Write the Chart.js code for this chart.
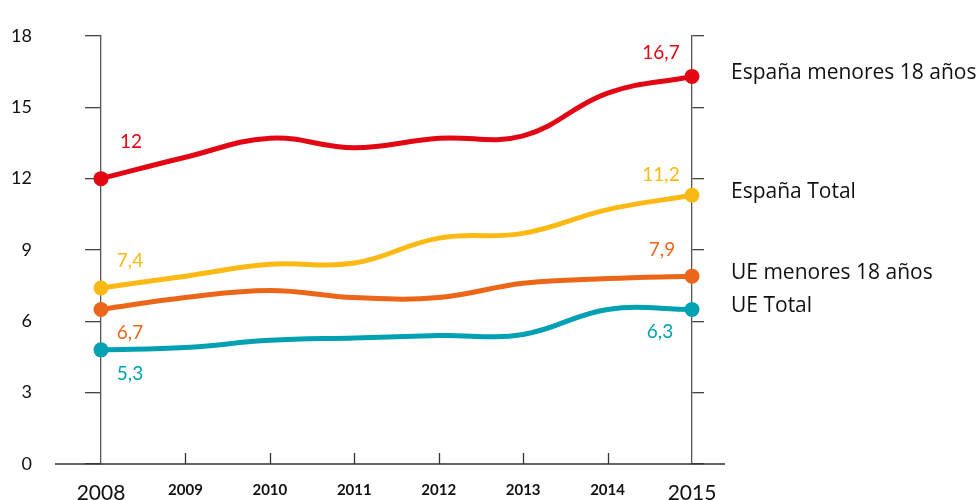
<!DOCTYPE html>
<html><head><meta charset="utf-8">
<script src="https://cdn.jsdelivr.net/npm/chart.js@4.4.1/dist/chart.umd.min.js"></script>
<style>html,body{margin:0;padding:0;background:#fff}#wrap{width:977px;height:500px}</style>
</head><body><div id="wrap"><canvas id="c" width="977" height="500"></canvas></div>
<script>
const years = ['2008','2009','2010','2011','2012','2013','2014','2015'];
const seriesNames = ['España menores 18 años','España Total','UE menores 18 años','UE Total'];
const espanaMenores = [12.0, 12.9, 13.7, 13.3, 13.7, 13.8, 15.6, 16.3];
const espanaTotal   = [7.4, 7.9, 8.4, 8.45, 9.5, 9.7, 10.7, 11.3];
const ueMenores     = [6.5, 7.0, 7.3, 7.0, 7.0, 7.6, 7.8, 7.9];
const ueTotal       = [4.8, 4.9, 5.2, 5.3, 5.4, 5.45, 6.5, 6.5];
const startLabels = ['12', '7,4', '6,7', '5,3'];
const endLabels   = ['16,7', '11,2', '7,9', '6,3'];
const yTicks = [0, 3, 6, 9, 12, 15, 18];

const colors = ['#E30613', '#FDB913', '#EB6619', '#00A1B3'];
const allSeries = [espanaMenores, espanaTotal, ueMenores, ueTotal];
// label offsets (styling): [dx, dy] relative to first / last point
const startOff = [[30,-37],[29,-27],[29,23],[29,24]];
const endOff   = [[-31,-24],[-31,-20],[-30,-26],[-32,22]];
const FONT = 'Lato, "DejaVu Sans", sans-serif';
const NAMEFONT = '"Open Sans", Lato, sans-serif';

const decor = {
  id: 'decor',
  afterDatasetsDraw(chart) {
    const ctx = chart.ctx, xs = chart.scales.x, ys = chart.scales.y;
    const y0 = ys.getPixelForValue(0);
    ctx.save();
    ctx.strokeStyle = '#333'; ctx.lineWidth = 1.3;
    ctx.beginPath();
    ctx.moveTo(xs.left - 46, y0); ctx.lineTo(xs.right + 33, y0);
    for (let i = 1; i < years.length - 1; i++) {
      const px = Math.round(xs.getPixelForValue(i)) + 0.5;
      ctx.moveTo(px, y0); ctx.lineTo(px, y0 - 11);
    }
    ctx.stroke();
    ctx.textBaseline = 'middle';
    chart.data.datasets.forEach((ds, k) => {
      const meta = chart.getDatasetMeta(k);
      const p0 = meta.data[0], p1 = meta.data[meta.data.length - 1];
      ctx.textAlign = 'center';
      ctx.font = '19px ' + FONT;
      ctx.fillStyle = colors[k];
      ctx.fillText(startLabels[k], p0.x + startOff[k][0], p0.y + startOff[k][1]);
      ctx.fillText(endLabels[k], p1.x + endOff[k][0], p1.y + endOff[k][1]);
      ctx.fillStyle = '#111';
      ctx.textAlign = 'left';
      ctx.font = '21px ' + NAMEFONT;
      ctx.fillText(seriesNames[k], p1.x + 39, p1.y - 3);
    });
    ctx.restore();
  }
};

new Chart(document.getElementById('c'), {
  type: 'line',
  data: {
    labels: years,
    datasets: allSeries.map((d, k) => ({
      label: seriesNames[k],
      data: d,
      borderColor: colors[k],
      backgroundColor: colors[k],
      borderWidth: 5,
      tension: 0.4,
      clip: false,
      pointRadius: (c) => (c.dataIndex === 0 || c.dataIndex === years.length - 1) ? 7.5 : 0,
      pointBorderWidth: 0,
      pointBackgroundColor: colors[k],
      yAxisID: 'y'
    }))
  },
  options: {
    responsive: false,
    animation: false,
    devicePixelRatio: 1,
    layout: { padding: { top: 36, left: 0, right: 0, bottom: 0 } },
    plugins: { legend: { display: false }, tooltip: { enabled: false } },
    scales: {
      x: {
        type: 'category',
        offset: false,
        afterFit: (s) => { s.height = 36; },
        grid: { display: false, drawTicks: false },
        border: { display: false },
        ticks: {
          padding: 17,
          autoSkip: false,
          maxRotation: 0,
          color: '#111',
          font: (c) => (c.index === 0 || c.index === years.length - 1)
            ? { family: FONT, size: 21 } : { family: FONT, size: 15, weight: 'bold' }
        }
      },
      y: {
        position: 'left',
        min: 0, max: 18,
        afterBuildTicks: (s) => { s.ticks = yTicks.map(v => ({ value: v })); },
        afterFit: (s) => { s.width = 101; s.paddingTop = 0; s.paddingBottom = 0; },
        grid: { drawOnChartArea: false, drawTicks: true, tickLength: 16, color: '#444', lineWidth: 1.3 },
        border: { display: true, color: '#555', width: 1.3 },
        ticks: { padding: 53, color: '#111', font: { family: FONT, size: 18 } }
      },
      y2: {
        position: 'right',
        min: 0, max: 18,
        afterBuildTicks: (s) => { s.ticks = yTicks.map(v => ({ value: v })); },
        afterFit: (s) => { s.width = 285; s.paddingTop = 0; s.paddingBottom = 0; },
        grid: { drawOnChartArea: false, drawTicks: true, tickLength: 12, color: '#444', lineWidth: 1.3 },
        border: { display: true, color: '#555', width: 1.3 },
        ticks: { display: false }
      }
    }
  },
  plugins: [decor]
});
</script>
</body></html>
